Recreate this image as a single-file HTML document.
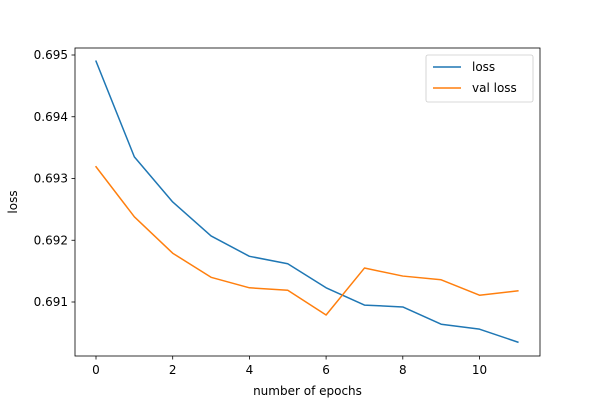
<!DOCTYPE html>
<html><head><meta charset="utf-8"><style>
body{margin:0;background:#fff;}
svg text{font-family:"DejaVu Sans","Liberation Sans",sans-serif;font-size:12px;fill:#000;}
</style></head><body>
<svg id="chart" width="600" height="400" xmlns="http://www.w3.org/2000/svg">
<rect x="0" y="0" width="600" height="400" fill="#fff"/>
<g id="plot"></g>
</svg>
<script>
const epochs=[0,1,2,3,4,5,6,7,8,9,10,11];
const lossValues=[0.69490,0.69335,0.69262,0.69207,0.69174,0.69162,0.69123,0.69095,0.69092,0.69064,0.69056,0.69035];
const valLossValues=[0.69319,0.69238,0.69179,0.69140,0.69123,0.69119,0.69079,0.69155,0.69142,0.69136,0.69111,0.69118];
const xTicks=[0,2,4,6,8,10];
const yTicks=[0.691,0.692,0.693,0.694,0.695];

const L=75,R=540,T=48,B=356;
const xs=v=>96+(v-0)*38.35;
const ys=v=>302-(v-0.691)*61750;
const NS="http://www.w3.org/2000/svg";
const g=document.getElementById('plot');
function mk(tag,attrs,parent){const e=document.createElementNS(NS,tag);for(const k in attrs)e.setAttribute(k,attrs[k]);(parent||g).appendChild(e);return e;}

xTicks.forEach(t=>{
  const x=xs(t);
  const tk=mk('line',{x1:x,x2:x,y1:B,y2:B+3.5,stroke:'#000','stroke-width':0.8});
  
  
  const lb=mk('text',{x:x,y:B+18,'text-anchor':'middle'});lb.textContent=t;
  
  
});
yTicks.forEach(t=>{
  const y=ys(t);
  const tk=mk('line',{x1:L-3.5,x2:L,y1:y,y2:y,stroke:'#000','stroke-width':0.8});
  
  
  const lb=mk('text',{x:L-7,y:y+4,'text-anchor':'end'});lb.textContent=t.toFixed(3);
  
  
});

function series(vals,color,name){
  const p=mk('polyline',{points:vals.map((v,i)=>xs(epochs[i])+','+ys(v)).join(' '),fill:'none',stroke:color,'stroke-width':1.5,'stroke-linejoin':'round','stroke-linecap':'square'});
  
  
}
series(lossValues,'#1f77b4','loss-line');
series(valLossValues,'#ff7f0e','val-loss-line');

const frame=mk('rect',{x:L,y:T,width:R-L,height:B-T,fill:'none',stroke:'#000','stroke-width':0.8});



const xt=mk('text',{x:(L+R)/2,y:395,'text-anchor':'middle'});xt.textContent='number of epochs';


const yt=mk('text',{x:17,y:(T+B)/2,'text-anchor':'middle',transform:'rotate(-90 17 '+((T+B)/2)+')'});yt.textContent='loss';



const lg=mk('g',{});


mk('rect',{x:426,y:55,width:107,height:47,rx:2,fill:'#fff',stroke:'#ccc','stroke-width':0.8},lg);
[['loss','#1f77b4',67],['val loss','#ff7f0e',88]].forEach(([n,c,y])=>{
  const e=mk('g',{},lg);
  
  
  mk('line',{x1:433,x2:461,y1:y,y2:y,stroke:c,'stroke-width':1.5},e);
  const t=mk('text',{x:472,y:y+4},e);t.textContent=n;
});
</script>
</body></html>
